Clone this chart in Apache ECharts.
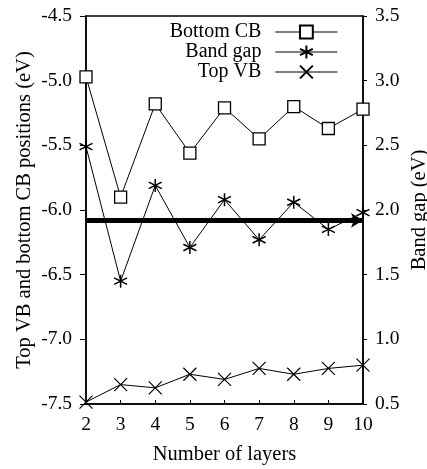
<!DOCTYPE html>
<html>
<head>
<meta charset="utf-8">
<script src="https://cdn.jsdelivr.net/npm/echarts@6/dist/echarts.min.js"></script>
<style>
  html, body { margin: 0; padding: 0; background: #fff; }
  #main { width: 427px; height: 469px; }
</style>
</head>
<body>
<div id="main"></div>
<script>
var layers = [2, 3, 4, 5, 6, 7, 8, 9, 10];
var bottomCB = [-4.97, -5.90, -5.18, -5.56, -5.21, -5.45, -5.20, -5.37, -5.22];
var bandGap = [2.49, 1.45, 2.19, 1.71, 2.08, 1.77, 2.06, 1.85, 1.98];
var topVB = [-7.485, -7.35, -7.375, -7.27, -7.31, -7.225, -7.27, -7.225, -7.20];
var arrowLevel = -6.08;

var font = 'Liberation Serif';
var asterisk = 'path://M5,0L5,10M0.7,2.5L9.3,7.5M0.7,7.5L9.3,2.5';
var cross = 'path://M0,0L10,10M10,0L0,10';

function pairs(vals) {
  var out = [];
  for (var i = 0; i < layers.length; i++) out.push([layers[i], vals[i]]);
  return out;
}

var chart = echarts.init(document.getElementById('main'));

var option = {
  animation: false,
  backgroundColor: '#fff',
  textStyle: { fontFamily: font, color: '#000' },
  grid: {
    left: 86, right: 64, top: 16, bottom: 65,
    outerBoundsMode: 'none',
    containLabel: false,
    show: true, borderColor: '#000', borderWidth: 1.5
  },
  legend: {
    right: 84,
    top: 17,
    orient: 'vertical',
    align: 'right',
    itemGap: 0,
    itemWidth: 62,
    itemHeight: 16,
    lineStyle: { width: 1.2, color: '#000' },
    textStyle: { fontFamily: font, fontSize: 20, lineHeight: 20, color: '#000', padding: [0, 9, 0, 0] },
    data: ['Bottom CB', 'Band gap', 'Top VB']
  },
  xAxis: {
    type: 'value',
    min: 2, max: 10, interval: 1,
    name: 'Number of layers',
    nameLocation: 'middle',
    nameGap: 40,
    nameTextStyle: { fontFamily: font, fontSize: 20.5, color: '#000' },
    axisLine: { lineStyle: { color: '#000', width: 1.5 } },
    axisTick: { inside: true, length: 4, lineStyle: { color: '#000' } },
    axisLabel: { fontFamily: font, fontSize: 19.5, color: '#000', margin: 11 },
    splitLine: { show: false }
  },
  yAxis: [
    {
      type: 'value',
      min: -7.5, max: -4.5, interval: 0.5,
      name: 'Top VB and bottom CB positions (eV)',
      nameLocation: 'middle',
      nameGap: 51,
      nameMoveOverlap: false,
      nameTextStyle: { fontFamily: font, fontSize: 20.5, color: '#000' },
      axisLine: { show: true, lineStyle: { color: '#000', width: 1.5 } },
      axisTick: { show: true, length: 6, lineStyle: { color: '#000' } },
      axisLabel: { fontFamily: font, fontSize: 19.5, color: '#000', margin: 14, formatter: function (v) { return v.toFixed(1); } },
      splitLine: { show: false }
    },
    {
      type: 'value',
      min: 0.5, max: 3.5, interval: 0.5,
      name: 'Band gap (eV)',
      nameLocation: 'middle',
      nameGap: 46,
      nameRotate: 90,
      nameMoveOverlap: false,
      nameTextStyle: { fontFamily: font, fontSize: 20.5, color: '#000' },
      axisLine: { show: true, lineStyle: { color: '#000', width: 1.5 } },
      axisTick: { show: true, length: 4, lineStyle: { color: '#000' } },
      axisLabel: { fontFamily: font, fontSize: 19.5, color: '#000', margin: 12, formatter: function (v) { return v.toFixed(1); } },
      splitLine: { show: false }
    }
  ],
  series: [
    {
      name: 'Bottom CB',
      type: 'line',
      yAxisIndex: 0,
      data: pairs(bottomCB),
      symbol: 'rect',
      symbolSize: 12,
      showAllSymbol: true,
      lineStyle: { color: '#000', width: 1 },
      itemStyle: { color: '#fff', borderColor: '#000', borderWidth: 1.3 },
      z: 3
    },
    {
      name: 'Band gap',
      type: 'line',
      yAxisIndex: 1,
      data: pairs(bandGap),
      symbol: asterisk,
      symbolSize: 13,
      lineStyle: { color: '#000', width: 1 },
      itemStyle: { color: 'rgba(0,0,0,0)', borderColor: '#000', borderWidth: 1.5 },
      z: 3
    },
    {
      name: 'Top VB',
      type: 'line',
      yAxisIndex: 0,
      data: pairs(topVB),
      symbol: cross,
      symbolSize: 13,
      lineStyle: { color: '#000', width: 1 },
      itemStyle: { color: 'rgba(0,0,0,0)', borderColor: '#000', borderWidth: 1.2 },
      z: 3
    },
    {
      name: 'arrow',
      type: 'line',
      yAxisIndex: 0,
      data: [],
      silent: true,
      markLine: {
        silent: true,
        symbol: ['none', 'arrow'],
        symbolSize: [11, 12],
        label: { show: false },
        lineStyle: { color: '#000', width: 5, type: 'solid' },
        data: [[{ coord: [layers[0], arrowLevel] }, { coord: [layers[layers.length - 1], arrowLevel] }]]
      },
      z: 2
    }
  ]
};

chart.setOption(option);
</script>
</body>
</html>
